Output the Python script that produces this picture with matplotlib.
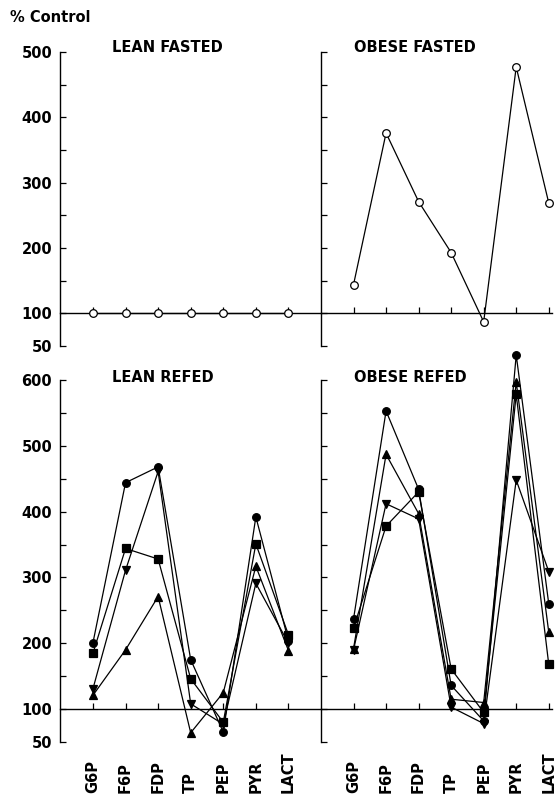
import matplotlib
matplotlib.use('Agg')
import matplotlib.pyplot as plt
from matplotlib.transforms import blended_transform_factory

# categories along the x axis (same for both panels in a row)
categories = ['G6P', 'F6P', 'FDP', 'TP', 'PEP', 'PYR', 'LACT']

# fasted, % of control
lean_fasted = [100, 100, 100, 100, 100, 100, 100]
obese_fasted = [144, 376, 271, 193, 87, 477, 269]

# refed, % of control, one list per symbol
lean_refed_circle = [201, 444, 468, 175, 65, 392, 204]
lean_refed_square = [185, 344, 328, 146, 80, 351, 213]
lean_refed_down = [131, 311, 461, 108, 77, 291, 200]
lean_refed_up = [121, 190, 271, 64, 125, 317, 189]

obese_refed_circle = [237, 553, 434, 136, 82, 638, 260]
obese_refed_square = [223, 378, 430, 161, 95, 578, 168]
obese_refed_up = [192, 487, 397, 115, 110, 597, 217]
obese_refed_down = [190, 412, 389, 103, 78, 448, 309]

plt.rcParams['font.family'] = ['DejaVu Sans']
plt.rcParams['font.weight'] = 'bold'

fig = plt.figure(figsize=(5.55, 7.97), dpi=100)

W, H = 555.0, 797.0
x_left, x_split, x_end = 60.4, 321.0, 552.0


def make_axes(y_top_px, y_bot_px, ymax, left):
    bottom = 1 - y_bot_px / H
    height = (y_bot_px - y_top_px) / H
    if left:
        ax = fig.add_axes([x_left / W, bottom, (x_split - x_left) / W, height])
        ax.set_xlim(0, 8)
        xs = list(range(1, 8))
    else:
        ax = fig.add_axes([x_split / W, bottom, (x_end - x_split) / W, height])
        ax.set_xlim(8, 15.1)
        xs = list(range(9, 16))
    ax.set_ylim(50, ymax)
    ax.patch.set_visible(False)
    for s in ['top', 'right']:
        ax.spines[s].set_visible(False)
    ax.spines['bottom'].set_position(('data', 100))
    ax.spines['left'].set_bounds(50, ymax)
    for s in ['left', 'bottom']:
        ax.spines[s].set_linewidth(1.0)
    major = [50] + list(range(100, ymax + 1, 100))
    minor = list(range(150, ymax, 100))
    ax.set_yticks(major)
    ax.set_yticks(minor, minor=True)
    ax.tick_params(axis='y', which='both', direction='in', length=4, width=0.9,
                   labelsize=10.5, pad=6, labelleft=left)
    ax.set_xticks(xs)
    ax.tick_params(axis='x', direction='in', length=4, width=0.9, labelbottom=False)
    return ax, xs


def draw(ax, xs, vals, marker, mfc='black'):
    ax.plot(xs, vals, color='black', lw=0.9, marker=marker, ms=5.5,
            mfc=mfc, mec='black', mew=0.9, clip_on=False, zorder=3)


def title(ax, x, y_px, text):
    tr = blended_transform_factory(ax.transData, fig.transFigure)
    ax.text(x, 1 - y_px / H, text, transform=tr, ha='left', va='center',
            fontsize=10.5, fontweight='bold')


# top row: fasted
ax1, xs1 = make_axes(52, 346, 500, True)
ax2, xs2 = make_axes(52, 346, 500, False)
draw(ax1, xs1, lean_fasted, 'o', mfc='white')
draw(ax2, xs2, obese_fasted, 'o', mfc='white')
title(ax1, 1.58, 48, 'LEAN FASTED')
title(ax2, 9.0, 48, 'OBESE FASTED')

# bottom row: refed
ax3, xs3 = make_axes(380, 742, 600, True)
ax4, xs4 = make_axes(380, 742, 600, False)
draw(ax3, xs3, lean_refed_circle, 'o')
draw(ax3, xs3, lean_refed_square, 's')
draw(ax3, xs3, lean_refed_down, 'v')
draw(ax3, xs3, lean_refed_up, '^')
draw(ax4, xs4, obese_refed_circle, 'o')
draw(ax4, xs4, obese_refed_square, 's')
draw(ax4, xs4, obese_refed_up, '^')
draw(ax4, xs4, obese_refed_down, 'v')
title(ax3, 1.58, 378, 'LEAN REFED')
title(ax4, 9.0, 378, 'OBESE REFED')

# category labels under the bottom row
for ax, xs in [(ax3, xs3), (ax4, xs4)]:
    tr = blended_transform_factory(ax.transData, fig.transFigure)
    for x, lab in zip(xs, categories):
        ax.text(x, 4 / H, lab, transform=tr, rotation=90, ha='center',
                va='bottom', fontsize=10.5, fontweight='bold')

fig.text(10 / W, 1 - 17 / H, '% Control', ha='left', va='center',
         fontsize=10.5, fontweight='bold')

fig.savefig('out.png', dpi=100)
